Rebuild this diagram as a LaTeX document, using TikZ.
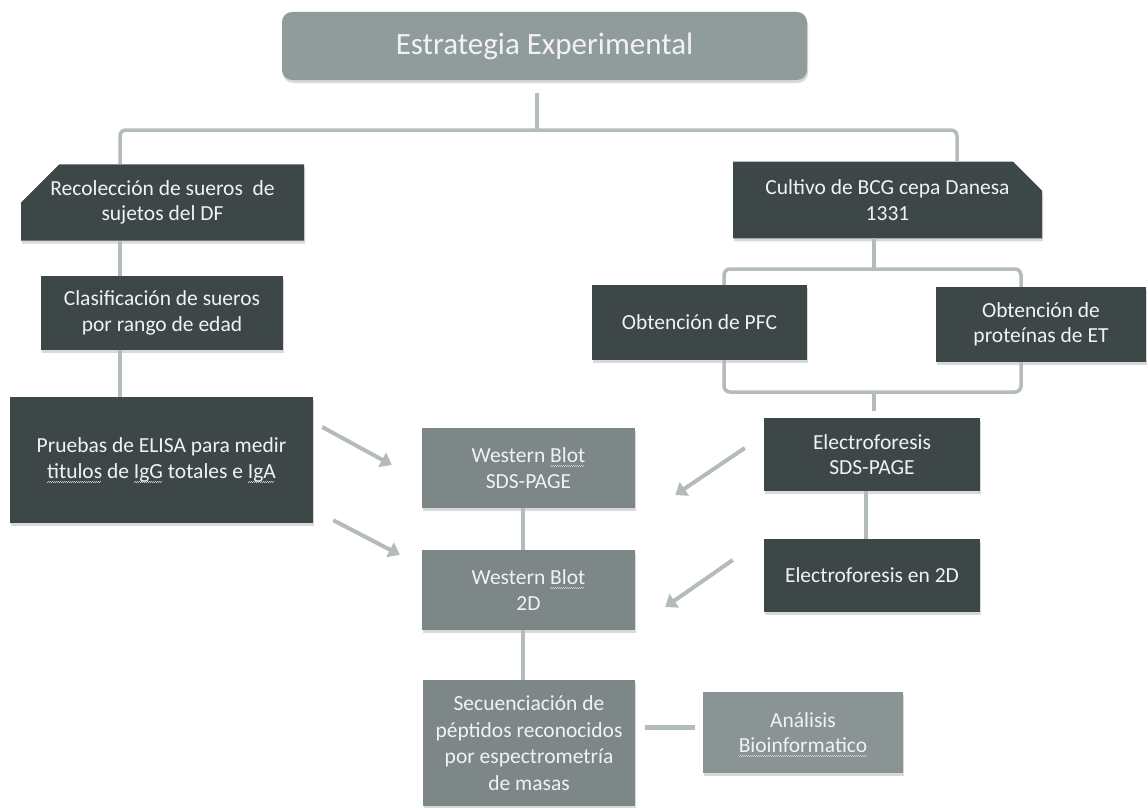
\documentclass[tikz,border=0pt]{standalone}
\usepackage{fontspec}
\setmainfont{Carlito}
\usetikzlibrary{arrows.meta,positioning,calc,shapes.misc,shadows}

\definecolor{boxdark}{HTML}{3E4747}
\definecolor{boxmid}{HTML}{7D8787}
\definecolor{boxlight}{HTML}{8A9494}
\definecolor{boxtop}{HTML}{909B9B}
\definecolor{linkgray}{HTML}{B3BBBB}
\definecolor{boxtext}{HTML}{F2F2F2}

% spell-check squiggle under a word
\newcommand{\squig}[1]{\setbox0\hbox{#1}\rlap{\raisebox{-4pt}[0pt][0pt]{\hbox to \wd0{%
  \color{boxtext!70!gray}\leaders\hbox to 2pt{\rule{1pt}{0.8pt}\rule[0.8pt]{1pt}{0.8pt}}\hfill}}}\box0\relax}

\begin{document}
\begin{tikzpicture}[x=1pt,y=-1pt,>=Latex,
  box/.style={text=boxtext,align=center,inner sep=3pt,
    font=\fontsize{21.5}{25.5}\selectfont,
    drop shadow={shadow xshift=1pt,shadow yshift=-3pt,opacity=0.3}},
  darkbox/.style={box,fill=boxdark},
  midbox/.style={box,fill=boxmid},
  link/.style={draw=linkgray,line width=3.5pt,rounded corners=6pt},
  flow/.style={draw=linkgray,line width=4pt,-{Triangle[length=11pt,width=16pt]}}]
  \useasboundingbox (0,0) rectangle (1148,808);

  \node[box,fill=boxtop,rounded corners=10pt,minimum width=525pt,minimum height=68pt,
    font=\fontsize{31}{36}\selectfont] (strategy) at (544.5,46) {Estrategia Experimental};

  % left column
  \node[darkbox,chamfered rectangle,chamfered rectangle corners=north west,
    chamfered rectangle xsep=49pt,chamfered rectangle ysep=13pt,
    minimum width=283pt,minimum height=71pt] (rec) at (162.5,202.5) {Recolección de sueros \ de\\sujetos del DF};
  \node[darkbox,minimum width=242pt,minimum height=74pt] (clas) at (162,313) {Clasificación de sueros\\por rango de edad};
  \node[darkbox,minimum width=303pt,minimum height=126pt] (elisa) at (161.5,460) {Pruebas de ELISA para medir\\\squig{titulos} de \squig{IgG} totales e \squig{IgA}};

  % middle column
  \node[midbox,minimum width=213pt,minimum height=80pt] (wbsds) at (528.5,468) {Western \squig{Blot}\\SDS-PAGE};
  \node[midbox,minimum width=213pt,minimum height=80pt] (wb2d) at (528.5,590) {Western \squig{Blot}\\2D};
  \node[midbox,minimum width=212pt,minimum height=126pt,
    font=\fontsize{21.5}{26.5}\selectfont] (secu) at (529,743) {Secuenciación de\\péptidos reconocidos\\por espectrometría\\de masas};
  \node[box,fill=boxlight,minimum width=200pt,minimum height=81pt] (bioinf) at (803,732.5) {Análisis\\\squig{Bioinformatico}};

  % right column
  \node[darkbox,chamfered rectangle,chamfered rectangle corners=north east,
    chamfered rectangle xsep=14pt,chamfered rectangle ysep=15pt,
    minimum width=309pt,minimum height=74pt] (cultivo) at (887.5,200) {Cultivo de BCG cepa Danesa\\1331};
  \node[darkbox,minimum width=215pt,minimum height=75pt] (pfc) at (699.5,322.5) {Obtención de PFC};
  \node[darkbox,minimum width=210pt,minimum height=75pt] (prot) at (1041,324.5) {Obtención de\\proteínas de ET};
  \node[darkbox,minimum width=216pt,minimum height=73pt] (electsds) at (872,454.5) {Electroforesis\\SDS-PAGE};
  \node[darkbox,minimum width=216pt,minimum height=73pt] (elect2d) at (872,575.5) {Electroforesis en 2D};

  % bracket lines
  \coordinate (hubtop) at (537,93);
  \coordinate (hub) at (537,130);
  \coordinate (lx) at (120,0);
  \coordinate (rx) at (957,0);
  \draw[link] (hubtop) -- (hub);
  \draw[link] (rec.north -| lx) |- (hub) -| (cultivo.north -| rx);
  \draw[link] (rec.south -| lx) -- (clas.north -| lx);
  \draw[link] (clas.south -| lx) -- (elisa.north -| lx);

  \coordinate (cuthub) at (874,269);
  \coordinate (mhub) at (874,392);
  \coordinate (mtip) at (874,411);
  \coordinate (bl) at (724,0);
  \coordinate (br) at (1021,0);
  \draw[link] (cultivo.south -| cuthub) -- (cuthub);
  \draw[link] (pfc.north -| bl) |- (cuthub) -| (prot.north -| br);
  \draw[link] (pfc.south -| bl) |- (mhub) -| (prot.south -| br);
  \draw[link] (mhub) -- (mtip);

  \coordinate (ex) at (866,0);
  \draw[link] (electsds.south -| ex) -- (elect2d.north -| ex);
  \coordinate (wx) at (523,0);
  \draw[link] (wbsds.south -| wx) -- (wb2d.north -| wx);
  \draw[link] (wb2d.south -| wx) -- (secu.north -| wx);
  \coordinate (bx) at ([yshift=5.5pt]bioinf.west);
  \draw[link,line width=5pt,shorten <=10pt,shorten >=8pt] (secu.east |- bx) -- (bx);

  % arrows into the blots
  \draw[flow] ([shift={(9,-33)}]elisa.east) -- ([shift={(-30,-3)}]wbsds.west);
  \draw[flow] ([shift={(20,-3)}]elisa.south east) -- ([shift={(-22,5)}]wb2d.north west);
  \draw[flow] ([shift={(-19,-6.5)}]electsds.west) -- ([shift={(40,27)}]wbsds.east);
  \draw[flow] ([shift={(-31,-15.5)}]elect2d.west) -- ([shift={(30,17)}]wb2d.east);
\end{tikzpicture}
\end{document}
